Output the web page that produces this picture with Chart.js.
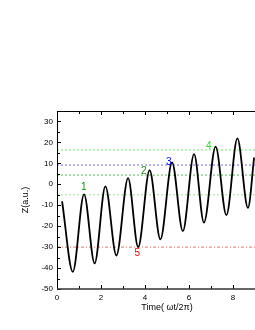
<!DOCTYPE html>
<html>
<head>
<meta charset="utf-8">
<script src="https://cdn.jsdelivr.net/npm/chart.js@4.4.0/dist/chart.umd.min.js"></script>
<style>
  html, body { margin: 0; padding: 0; background: #fff; }
  #wrap { width: 255px; height: 330px; overflow: hidden; }
  canvas { display: block; }
</style>
</head>
<body>
<div id="wrap"><canvas id="zChart" width="290" height="330"></canvas></div>
<script>
// curve: start, then alternating minima / maxima, then end at the crop
const timeValues = [0.23, 0.72, 1.23, 1.71, 2.2, 2.7, 3.23, 3.69, 4.21, 4.7, 5.23, 5.72, 6.23, 6.68, 7.21, 7.7, 8.2, 8.68, 8.96];
const zValues = [-8.1, -41.8, -4.8, -37.8, -1, -34, 2.9, -30, 6.7, -26.3, 10.4, -22.4, 14.4, -18.3, 18, -14.7, 21.9, -11.3, 12.8];

const xTicks = [0, 2, 4, 6, 8, 10];
const yTicks = [-50, -40, -30, -20, -10, 0, 10, 20, 30];

// dotted reference levels
const refLevels = [16.4, 9.2, 4.4, -5, -30];
const refColors = ['#6fe66f', '#6d6df0', '#5cb85c', '#a8dca0', '#f07070'];

// numbered marks
const markText = ['1', '2', '3', '4', '5'];
const markTime = [1.22, 3.95, 5.08, 6.9, 3.65];
const markZ = [-1.6, 6, 10.5, 18, -32.7];
const markColors = ['#009900', '#1e8c1e', '#0000ff', '#22dd22', '#ff0000'];

const FONT = '"Liberation Sans", Arial, sans-serif';

const curve = timeValues.map((t, i) => ({ x: t, y: zValues[i] }));
const refSets = refLevels.map((z, i) => ({
  data: [{ x: 0, y: z }, { x: 10, y: z }],
  showLine: true,
  borderColor: refColors[i],
  borderWidth: 1,
  borderDash: i === 4 ? [3, 2, 1, 2] : [2, 2],
  pointRadius: 0
}));

// axis frame with inward ticks, Origin style
const framePlugin = {
  id: 'frame',
  afterDatasetsDraw(chart) {
    const { ctx, chartArea: a, scales: { x, y } } = chart;
    ctx.save();
    ctx.strokeStyle = '#000';
    ctx.lineWidth = 1;
    ctx.beginPath();
    ctx.moveTo(a.left + 0.5, a.top);
    ctx.lineTo(a.left + 0.5, a.bottom);
    ctx.moveTo(a.left, a.top + 0.5);
    ctx.lineTo(a.right, a.top + 0.5);
    for (let v = 0; v <= 10; v++) {
      const px = Math.round(x.getPixelForValue(v)) + 0.5;
      const len = v % 2 === 0 ? 4 : 3;
      ctx.moveTo(px, a.bottom);
      ctx.lineTo(px, a.bottom - len);
      ctx.moveTo(px, a.top);
      ctx.lineTo(px, a.top + len);
    }
    for (let v = -50; v <= 35; v += 5) {
      const py = Math.round(y.getPixelForValue(v)) + 0.5;
      const len = v % 10 === 0 ? 4 : 3;
      ctx.moveTo(a.left, py);
      ctx.lineTo(a.left + len, py);
    }
    ctx.stroke();
    ctx.beginPath();
    ctx.lineWidth = 1.5;
    ctx.strokeStyle = '#333';
    ctx.moveTo(a.left, a.bottom);
    ctx.lineTo(a.right, a.bottom);
    ctx.stroke();
    ctx.restore();
  }
};

const markPlugin = {
  id: 'marks',
  afterDatasetsDraw(chart) {
    const { ctx, scales: { x, y } } = chart;
    ctx.save();
    ctx.font = '10px ' + FONT;
    ctx.textAlign = 'center';
    ctx.textBaseline = 'middle';
    markText.forEach((txt, i) => {
      ctx.fillStyle = markColors[i];
      ctx.fillText(txt, x.getPixelForValue(markTime[i]), y.getPixelForValue(markZ[i]));
    });
    ctx.restore();
  }
};

const ctx = document.getElementById('zChart');
new Chart(ctx, {
  type: 'scatter',
  data: {
    datasets: [
      {
        data: curve,
        showLine: true,
        borderColor: '#000',
        borderWidth: 1.8,
        pointRadius: 0,
        cubicInterpolationMode: 'monotone'
      },
      ...refSets
    ]
  },
  options: {
    responsive: false,
    animation: false,
    devicePixelRatio: 1,
    layout: { padding: { left: 0, top: 111, right: 13, bottom: 0 } },
    plugins: { legend: { display: false }, tooltip: { enabled: false } },
    scales: {
      x: {
        type: 'linear',
        min: 0,
        max: 10,
        afterBuildTicks: s => { s.ticks = xTicks.map(v => ({ value: v })); },
        afterFit: s => { s.height = 41; },
        grid: { display: false, drawTicks: false },
        border: { display: false },
        ticks: { color: '#000', padding: 4, maxRotation: 0, font: { family: FONT, size: 8 } },
        title: {
          display: true,
          text: 'Time( ωt/2π)',
          color: '#000',
          font: { family: FONT, size: 9 },
          padding: { top: 0, bottom: 17 }
        }
      },
      y: {
        type: 'linear',
        min: -50,
        max: 35,
        afterBuildTicks: s => { s.ticks = yTicks.map(v => ({ value: v })); },
        afterFit: s => { s.width = 57; },
        grid: { display: false, drawTicks: false },
        border: { display: false },
        ticks: { color: '#000', padding: 4, font: { family: FONT, size: 8 } },
        title: {
          display: true,
          text: 'Z(a.u.)',
          color: '#000',
          font: { family: FONT, size: 9 },
          padding: { top: 20, bottom: 0 }
        }
      }
    }
  },
  plugins: [framePlugin, markPlugin]
});
</script>
</body>
</html>
